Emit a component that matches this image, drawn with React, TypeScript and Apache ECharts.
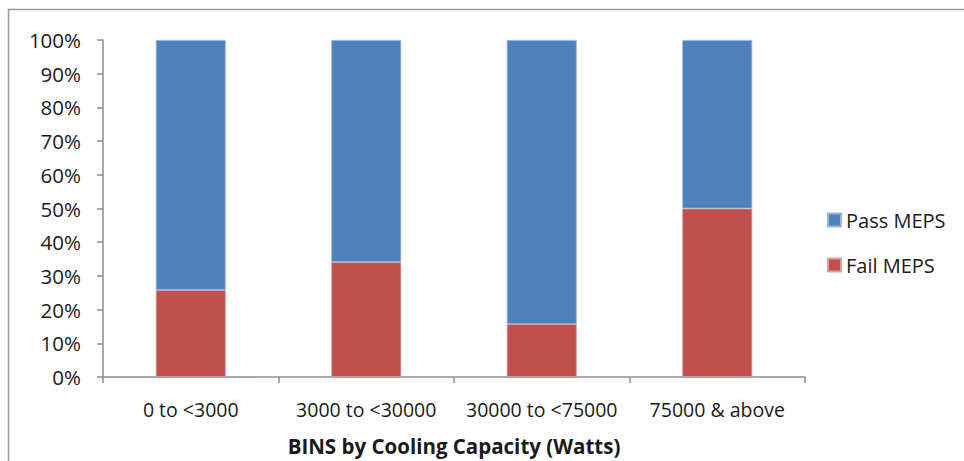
import React, { useEffect, useRef } from "react";
import * as echarts from "echarts";

const categories = ["0 to <3000", "3000 to <30000", "30000 to <75000", "75000 & above"];
const failValues = [25.8, 34.1, 15.7, 50.0];
const passValues = [74.2, 65.9, 84.3, 50.0];
const seriesNames = ["Pass MEPS", "Fail MEPS"];
const axisTitle = "BINS by Cooling Capacity (Watts)";

const FONT = "'Open Sans', 'Noto Sans', sans-serif";

export default function App() {
  const ref = useRef<HTMLDivElement>(null);
  useEffect(() => {
    if (!ref.current) return;
    const chart = echarts.init(ref.current, null, { renderer: "svg" });
    chart.setOption({
      animation: false,
      textStyle: { fontFamily: FONT },
      graphic: [
        {
          type: "rect",
          shape: { x: 8.5, y: 9.5, width: 1000, height: 1000 },
          style: { fill: "none", stroke: "#9a9a9a", lineWidth: 1.5 },
          silent: true,
        },
      ],
      grid: { left: 103, right: 159, top: 40, bottom: 83 },
      legend: {
        orient: "vertical",
        left: 822,
        top: 205,
        itemWidth: 13,
        itemHeight: 13,
        itemGap: 25,
        icon: "rect",
        data: seriesNames,
        textStyle: { fontFamily: FONT, fontSize: 20, color: "#1a1a1a", lineHeight: 20 },
      },
      xAxis: {
        type: "category",
        data: categories,
        axisLine: { lineStyle: { color: "#8c8c8c", width: 1.5 } },
        axisTick: { show: true, length: 6, lineStyle: { color: "#8c8c8c", width: 1.5 } },
        axisLabel: { fontFamily: FONT, fontSize: 19.5, color: "#1a1a1a", margin: 22, interval: 0 },
        name: axisTitle,
        nameLocation: "middle",
        nameGap: 58,
        nameTextStyle: { fontFamily: FONT, fontSize: 20.5, fontWeight: "bold", color: "#1a1a1a" },
      },
      yAxis: {
        type: "value",
        min: 0,
        max: 100,
        interval: 10,
        splitLine: { show: false },
        axisLine: { show: true, lineStyle: { color: "#8c8c8c", width: 1.5 } },
        axisTick: { show: true, length: 6, lineStyle: { color: "#8c8c8c", width: 1.5 } },
        axisLabel: {
          fontFamily: FONT,
          fontSize: 20.5,
          color: "#1a1a1a",
          margin: 22,
          formatter: (v: number) => `${v}%`,
        },
      },
      series: [
        {
          name: "Fail MEPS",
          type: "bar",
          stack: "total",
          barWidth: 70,
          data: failValues,
          itemStyle: { color: "#C0504D", borderColor: "#d9a09e", borderWidth: 0.8 },
        },
        {
          name: "Pass MEPS",
          type: "bar",
          stack: "total",
          barWidth: 70,
          data: passValues,
          itemStyle: { color: "#4F81BD", borderColor: "#9db7d8", borderWidth: 0.8 },
        },
      ],
    });
    return () => chart.dispose();
  }, []);
  return (
    <div
      ref={ref}
      style={{ position: "fixed", left: 0, top: 0, width: 964, height: 461, background: "#fff" }}
    />
  );
}
